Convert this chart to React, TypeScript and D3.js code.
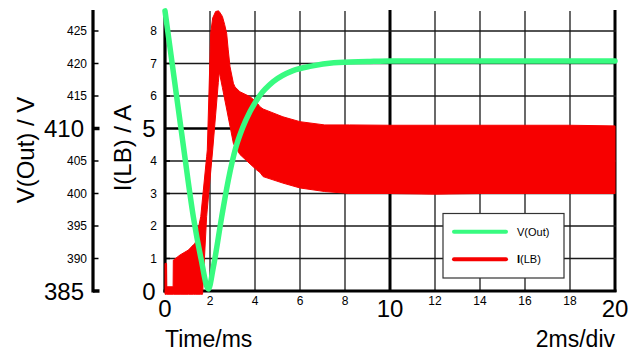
import React from "react";
import * as d3 from "d3";

// ---- data ----
const timeTicksSmall = [2, 4, 6, 8, 12, 14, 16, 18];
const timeTicksLarge = [0, 10, 20];
const currentTicksSmall = [1, 2, 3, 4, 6, 7, 8];
const currentTicksLarge = [0, 5];
const voltTicksSmall = [390, 395, 400, 405, 415, 420, 425];
const voltTicksLarge = [385, 410];

const vTime = [0, 0.42, 0.84, 1.26, 1.6, 1.93, 2.15, 2.52, 2.81, 3.15, 3.45, 3.78, 4.22, 4.81, 5.69, 6.5, 7.5, 9.0, 10, 12, 14, 16, 18, 20];
const vOut = [428.1, 417.4, 406.7, 396.4, 390.0, 385.3, 388.7, 396.4, 402.0, 407.1, 410.1, 412.6, 415.1, 417.2, 418.9, 419.6, 420.1, 420.3, 420.4, 420.4, 420.4, 420.4, 420.4, 420.4];

const iTime = [0, 0.07, 0.08, 0.36, 0.37, 0.67, 1.04, 1.26, 1.34, 1.59, 1.67, 1.85, 1.88, 2.03, 2.12, 2.25, 2.37, 2.41, 2.55, 2.65, 2.74, 2.81, 2.89, 3.04, 3.11, 3.33, 3.78, 4.08, 4.22, 4.36, 4.8, 5.24, 6.0, 7.1, 8.2, 10, 12, 14, 16, 18, 20];
const iLow = [-0.1, -0.1, -0.1, -0.1, -0.1, -0.1, -0.1, -0.1, -0.1, -0.1, -0.1, 2.29, 2.52, 3.66, 4.34, 5.42, 6.42, 6.75, 6.26, 5.91, 5.6, 5.35, 5.07, 4.54, 4.45, 4.2, 3.91, 3.72, 3.65, 3.52, 3.42, 3.32, 3.17, 3.06, 3.0, 3.0, 2.98, 3.0, 3.0, 3.0, 3.0];
const iHigh = [0.85, 0.85, 0.13, 0.13, 0.95, 1.11, 1.26, 1.42, 1.47, 2.29, 2.86, 4.13, 4.34, 7.93, 8.4, 8.6, 8.62, 8.6, 8.45, 8.2, 7.93, 7.42, 6.9, 6.39, 6.28, 6.13, 5.98, 5.8, 5.67, 5.6, 5.48, 5.36, 5.21, 5.11, 5.11, 5.1, 5.1, 5.1, 5.1, 5.1, 5.08];

const FONT = "'Liberation Sans', Arial, Helvetica, sans-serif";
const GREEN = "#38fb80";
const RED = "#f70000";

export default function App() {
  const x = d3.scaleLinear().domain([0, 20]).range([165, 615]);
  const yI = d3.scaleLinear().domain([0, 8]).range([291, 31]);
  const yV = d3.scaleLinear().domain([385, 425]).range([291, 31]);
  const top = 11;

  const vData = vTime.map((t, i) => ({ t, v: vOut[i] }));
  const iData = iTime.map((t, i) => ({ t, lo: iLow[i], hi: iHigh[i] }));

  const vLine = d3
    .line<{ t: number; v: number }>()
    .x((d) => x(d.t))
    .y((d) => yV(d.v))
    .curve(d3.curveMonotoneX);
  const iArea = d3
    .area<{ t: number; lo: number; hi: number }>()
    .x((d) => x(d.t))
    .y0((d) => yI(d.lo))
    .y1((d) => yI(d.hi))
    .curve(d3.curveLinear);

  const gridColor = "#1a1a1a";

  return (
    <svg width={634} height={352} style={{ position: "absolute", left: 0, top: 0, background: "#fff" }} fontFamily={FONT}>
      <rect x={0} y={0} width={634} height={352} fill="#fff" />
      {/* vertical grid */}
      {timeTicksSmall.map((t) => (
        <line key={"vg" + t} x1={x(t)} x2={x(t)} y1={top} y2={291} stroke={gridColor} strokeWidth={1.3} />
      ))}
      {[10, 20].map((t) => (
        <line key={"vgl" + t} x1={x(t)} x2={x(t)} y1={top - 1} y2={292} stroke="#000" strokeWidth={3} />
      ))}
      {/* horizontal grid */}
      {currentTicksSmall.map((c) => (
        <line key={"hg" + c} x1={x(0)} x2={x(20) + 1} y1={yI(c)} y2={yI(c)} stroke={gridColor} strokeWidth={1.3} />
      ))}
      <line x1={x(0)} x2={x(20) + 1} y1={yI(5)} y2={yI(5)} stroke="#000" strokeWidth={2.6} />
      {/* axes */}
      <line x1={x(0)} x2={x(0)} y1={top - 1} y2={292.5} stroke="#000" strokeWidth={3.2} />
      <line x1={x(0) - 1.5} x2={x(20) + 1.5} y1={291} y2={291} stroke="#000" strokeWidth={3.2} />
      <line x1={93} x2={93} y1={top - 1} y2={292.5} stroke="#000" strokeWidth={3.2} />
      {voltTicksSmall.map((v) => (
        <line key={"vt" + v} x1={93} x2={98.5} y1={yV(v)} y2={yV(v)} stroke="#000" strokeWidth={1.5} />
      ))}
      {voltTicksLarge.map((v) => (
        <line key={"vtl" + v} x1={93} x2={99.5} y1={yV(v)} y2={yV(v)} stroke="#000" strokeWidth={3.5} />
      ))}
      {currentTicksSmall.map((c) => (
        <line key={"it" + c} x1={165} x2={170} y1={yI(c)} y2={yI(c)} stroke="#000" strokeWidth={1.5} />
      ))}

      {/* tick labels */}
      {voltTicksSmall.map((v) => (
        <text key={"vl" + v} x={87} y={yV(v)} textAnchor="end" dominantBaseline="central" fontSize={12}>
          {v}
        </text>
      ))}
      {voltTicksLarge.map((v) => (
        <text key={"vll" + v} x={84} y={yV(v)} textAnchor="end" dominantBaseline="central" fontSize={24}>
          {v}
        </text>
      ))}
      {currentTicksSmall.map((c) => (
        <text key={"il" + c} x={157} y={yI(c)} textAnchor="end" dominantBaseline="central" fontSize={12}>
          {c}
        </text>
      ))}
      {currentTicksLarge.map((c) => (
        <text key={"ill" + c} x={155.5} y={yI(c)} textAnchor="end" dominantBaseline="central" fontSize={24}>
          {c}
        </text>
      ))}
      {timeTicksSmall.map((t) => (
        <text key={"tl" + t} x={x(t)} y={301} textAnchor="middle" dominantBaseline="central" fontSize={12}>
          {t}
        </text>
      ))}
      {timeTicksLarge.map((t) => (
        <text key={"tll" + t} x={x(t)} y={308} textAnchor="middle" dominantBaseline="central" fontSize={24}>
          {t}
        </text>
      ))}

      {/* axis titles */}
      <text x={165} y={347} fontSize={23}>Time/ms</text>
      <text x={615} y={347} fontSize={23} textAnchor="end">2ms/div</text>
      <text transform="translate(34,150) rotate(-90)" textAnchor="middle" fontSize={24}>V(Out) / V</text>
      <text transform="translate(130.5,148) rotate(-90)" textAnchor="middle" fontSize={24}>I(LB) / A</text>

      {/* series */}
      <path d={iArea(iData) ?? ""} fill={RED} stroke={RED} strokeWidth={1} />
      <path d={vLine(vData) ?? ""} fill="none" stroke={GREEN} strokeWidth={5.5} strokeLinecap="round" strokeLinejoin="round" />

      {/* legend */}
      <rect x={443} y={213.5} width={121} height={64.5} fill="#fff" stroke="#333" strokeWidth={1.2} />
      <line x1={454} x2={506} y1={231.7} y2={231.7} stroke={GREEN} strokeWidth={4} strokeLinecap="round" />
      <line x1={454} x2={506} y1={259.3} y2={259.3} stroke={RED} strokeWidth={4} strokeLinecap="round" />
      <text x={517} y={231.7} dominantBaseline="central" fontSize={11}>V(Out)</text>
      <text x={517} y={259.3} dominantBaseline="central" fontSize={11}>
        <tspan fontWeight="bold">I</tspan>(LB)
      </text>
    </svg>
  );
}
